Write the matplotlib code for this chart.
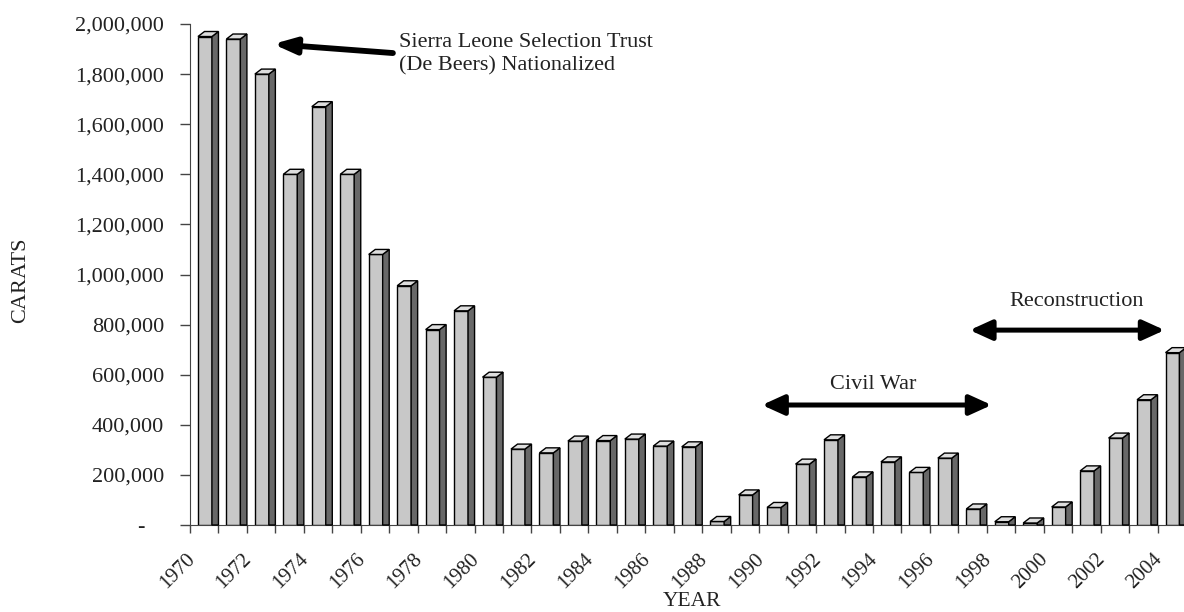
import matplotlib
matplotlib.use('Agg')
import matplotlib.pyplot as plt
import matplotlib.transforms as mtransforms
from matplotlib.patches import Polygon
from matplotlib.ticker import FuncFormatter
import numpy as np

plt.rcParams['font.family'] = ['Liberation Serif', 'DejaVu Serif']

# diamond production, Sierra Leone
years = list(range(1970, 2005))
carats = [1950000, 1940000, 1800000, 1400000, 1670000, 1400000, 1080000,
          955000, 780000, 855000, 590000, 303000, 288000, 335000, 337000,
          343000, 315000, 312000, 14000, 120000, 70000, 243000, 340000,
          192000, 252000, 210000, 267000, 64000, 13000, 8000, 72000,
          216000, 347000, 500000, 688000]
label_years = years[::2]

yticks = list(range(0, 2000001, 200000))

txt_col = '#222222'

fig = plt.figure(figsize=(11.84, 6.12), dpi=100)
ax = fig.add_axes([190 / 1184, 87 / 612, 996 / 1184, 501 / 612])

x = np.array(years)
v = np.array(carats)
fw = 0.49     # front face width
dx = 0.23     # depth offset (x)
dy = 20000    # depth offset (y)
left = x - 0.22

ax.bar(left, v, width=fw, align='edge', color='#c8c8c8', edgecolor='black',
       linewidth=1, zorder=3)
for xl, val in zip(left, v):
    r = xl + fw
    side = Polygon([(r, 0), (r + dx, 0), (r + dx, val + dy), (r, val)],
                   closed=True, facecolor='#686868', edgecolor='black',
                   linewidth=1, zorder=3, clip_on=False)
    top = Polygon([(xl, val), (r, val), (r + dx, val + dy), (xl + dx, val + dy)],
                  closed=True, facecolor='#dedede', edgecolor='black',
                  linewidth=1, zorder=4, clip_on=False)
    ax.add_patch(side)
    ax.add_patch(top)

ax.set_xlim(years[0] - 0.5, years[-1] + 0.5)
ax.set_ylim(0, 2000000)

for s in ['top', 'right']:
    ax.spines[s].set_visible(False)
ax.spines['left'].set_color('#444444')
ax.spines['bottom'].set_color('#444444')

ax.set_yticks(yticks)
ax.yaxis.set_major_formatter(FuncFormatter(lambda y, p: '-' if y == 0 else f'{int(y):,}'))
ax.tick_params(axis='y', length=7, width=1, color='#444444', pad=11.5,
               labelsize=16, labelcolor=txt_col)
zero_lab = ax.get_yticklabels()[0]
zero_lab.set_transform(zero_lab.get_transform() +
                       mtransforms.ScaledTranslation(-20 / 100, 0, fig.dpi_scale_trans))

ax.set_xticks(np.arange(years[0] - 0.5, years[-1] + 1))
ax.set_xticklabels([])
ax.tick_params(axis='x', which='major', length=6, width=1, color='#444444')
ax.set_xticks(label_years, minor=True)
ax.set_xticklabels([str(y) for y in label_years], minor=True, rotation=45,
                   ha='right', va='top', rotation_mode='anchor')
ax.tick_params(axis='x', which='minor', length=0, pad=18, labelsize=15,
               labelcolor=txt_col)
off = mtransforms.ScaledTranslation(-19 / 100, 0, fig.dpi_scale_trans)
for lab in ax.get_xticklabels(minor=True):
    lab.set_transform(lab.get_transform() + off)

fig.text(21 / 1184, 1 - 280 / 612, 'CARATS', rotation=90, ha='center',
         va='center', fontsize=16, color=txt_col)
fig.text(692 / 1184, 1 - 602 / 612, 'YEAR', ha='center', va='center',
         fontsize=15.5, color=txt_col)

# annotations
ax.annotate('', xy=(1972.42, 1920000), xytext=(1976.63, 1884000),
            arrowprops=dict(arrowstyle='-|>,head_length=1.1,head_width=0.4',
                            mutation_scale=12, lw=4.2, color='black',
                            shrinkA=0, shrinkB=0))
ax.text(1976.85, 1880000, 'Sierra Leone Selection Trust\n(De Beers) Nationalized',
        ha='left', va='center', fontsize=16, color=txt_col, linespacing=1.3)

ax.annotate('', xy=(1989.6, 479000), xytext=(1997.67, 479000),
            arrowprops=dict(arrowstyle='<|-|>,head_length=1.1,head_width=0.5',
                            mutation_scale=12, lw=3.6, color='black',
                            shrinkA=0, shrinkB=0))
ax.text(1993.5, 559000, 'Civil War', ha='center', va='center', fontsize=16,
        color=txt_col)

ax.annotate('', xy=(1996.9, 778000), xytext=(2003.75, 778000),
            arrowprops=dict(arrowstyle='<|-|>,head_length=1.1,head_width=0.5',
                            mutation_scale=12, lw=3.6, color='black',
                            shrinkA=0, shrinkB=0))
ax.text(2000.66, 894000, 'Reconstruction', ha='center', va='center',
        fontsize=16, color=txt_col)

fig.savefig('out.png', dpi=100)
